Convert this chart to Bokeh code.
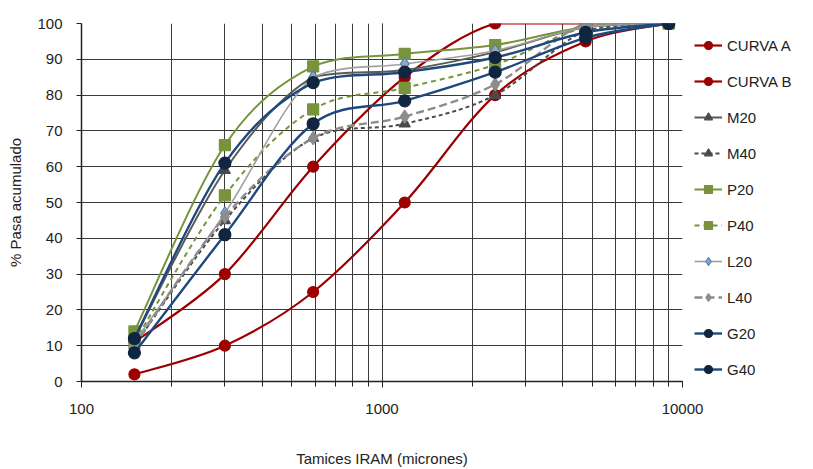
import numpy as np
from bokeh.plotting import figure
from bokeh.models import (Range1d, FixedTicker, Legend, LegendItem,
                          ColumnDataSource, PrintfTickFormatter)
from bokeh.embed import file_html
from bokeh.resources import INLINE

# ---- data ----
sizes = [150, 300, 590, 1190, 2380, 4760, 9000]
curva_a = [11, 30, 60, 85, 100, 100, 100]
curva_b = [2, 10, 25, 50, 80, 95, 100]
m20 = [12, 59, 85, 87, 92, 99, 100]
m40 = [10, 45, 68, 72, 80, 98, 100]
p20 = [14, 66, 88, 91.5, 94, 99, 100]
p40 = [11, 52, 76, 82, 88.5, 99, 100]
l20 = [11, 47, 85, 88.7, 92.4, 99, 100]
l40 = [10, 46, 68, 74, 83, 100, 100]
g20 = [12, 61, 83.5, 86.4, 90.5, 97.5, 100]
g40 = [8, 41, 72, 78.4, 86.4, 96, 100]
y_ticks = [0, 10, 20, 30, 40, 50, 60, 70, 80, 90, 100]

FONT = "Liberation Sans"

p = figure(frame_width=601, frame_height=358, x_axis_type="log",
           x_range=Range1d(100, 10000), y_range=Range1d(0, 100),
           output_backend="svg", toolbar_location=None,
           min_border_left=81, min_border_right=10,
           min_border_top=23, min_border_bottom=86)
p.outline_line_color = None
p.background_fill_color = "white"

# grid
p.xgrid.grid_line_color = "#3a3a3a"
p.xgrid.minor_grid_line_color = "#3a3a3a"
p.ygrid.grid_line_color = "#3a3a3a"
p.xgrid.grid_line_width = 1
p.ygrid.grid_line_width = 1

# axes
p.yaxis.ticker = FixedTicker(ticks=y_ticks)
p.xaxis.formatter = PrintfTickFormatter(format="%d")
for ax in (p.xaxis[0], p.yaxis[0]):
    ax.axis_line_color = "#222222"
    ax.axis_line_width = 1.5
    ax.major_tick_line_color = "#222222"
    ax.minor_tick_line_color = "#222222"
    ax.major_label_text_font = FONT
    ax.major_label_text_font_size = "15px"
    ax.major_label_text_color = "#222222"
    ax.axis_label_text_font = FONT
    ax.axis_label_text_font_size = "15px"
    ax.axis_label_text_font_style = "normal"
    ax.axis_label_text_color = "#222222"
p.xaxis.major_tick_out = 6
p.xaxis.major_tick_in = 0
p.xaxis.minor_tick_out = 5
p.xaxis.minor_tick_in = 0
p.xaxis.major_label_standoff = 16
p.xaxis.axis_label = "Tamices IRAM (micrones)"
p.xaxis.axis_label_standoff = 33
p.yaxis.major_tick_out = 5
p.yaxis.major_tick_in = 0
p.yaxis.minor_tick_out = 0
p.yaxis.major_label_standoff = 14
p.yaxis.axis_label = "% Pasa acumulado"
p.yaxis.axis_label_standoff = 10


def bezier_source(xs, ys, t=1 / 6):
    lx = np.log10(np.array(xs, float))
    y = np.array(ys, float)
    n = len(lx)
    d = dict(x0=[], y0=[], x1=[], y1=[], cx0=[], cy0=[], cx1=[], cy1=[])
    for i in range(n - 1):
        i0 = max(i - 1, 0)
        i3 = min(i + 2, n - 1)
        lo, hi = min(y[i], y[i + 1]), max(y[i], y[i + 1])
        c0x = lx[i] + (lx[i + 1] - lx[i0]) * t
        c0y = min(max(y[i] + (y[i + 1] - y[i0]) * t, lo), hi)
        c1x = lx[i + 1] - (lx[i3] - lx[i]) * t
        c1y = min(max(y[i + 1] - (y[i3] - y[i]) * t, lo), hi)
        d["x0"].append(10 ** lx[i]); d["y0"].append(y[i])
        d["x1"].append(10 ** lx[i + 1]); d["y1"].append(y[i + 1])
        d["cx0"].append(10 ** c0x); d["cy0"].append(c0y)
        d["cx1"].append(10 ** c1x); d["cy1"].append(c1y)
    return ColumnDataSource(d)


RED = "#9C0000"
MGRAY = "#4A4A4A"
GREEN = "#77933C"
LGRAY = "#A0A0A0"
LGRAY2 = "#8C8C8C"
NAVY = "#1F497D"
NAVY_M = "#10253F"

series = [
    ("CURVA A", curva_a, RED, 2.2, "solid", "circle", 11, RED, RED),
    ("CURVA B", curva_b, RED, 2.2, "solid", "circle", 11, RED, RED),
    ("M20", m20, "#5A5A5A", 2, "solid", "triangle", 11, MGRAY, MGRAY),
    ("M40", m40, MGRAY, 2, "4 3", "triangle", 11, MGRAY, MGRAY),
    ("P20", p20, GREEN, 2, "solid", "square", 11, GREEN, GREEN),
    ("P40", p40, GREEN, 2, "5 4", "square", 11, GREEN, GREEN),
    ("L20", l20, LGRAY, 1.6, "solid", "diamond", 13, "#9AA5B5", "#4F81BD"),
    ("L40", l40, LGRAY2, 2.4, "8 4", "diamond", 13, LGRAY2, LGRAY2),
    ("G20", g20, NAVY, 2.4, "solid", "circle", 12, NAVY_M, NAVY_M),
    ("G40", g40, NAVY, 2.4, "solid", "circle", 12, NAVY_M, NAVY_M),
]

items = []
for name, vals, lc, lw, dash, marker, msize, mfill, mline in series:
    src = bezier_source(sizes, vals)
    bz = p.bezier(x0="x0", y0="y0", x1="x1", y1="y1", cx0="cx0", cy0="cy0",
                  cx1="cx1", cy1="cy1", source=src, line_color=lc,
                  line_width=lw, line_dash=dash)
    sc = p.scatter(sizes, vals, marker=marker, size=msize, fill_color=mfill,
                   line_color=mline, line_width=1.2)
    items.append(LegendItem(label=name, renderers=[bz, sc]))

legend = Legend(items=items, location="top_left", orientation="vertical",
                border_line_color=None, background_fill_alpha=0,
                padding=3, margin=12, spacing=16, label_height=20,
                glyph_height=20, glyph_width=28, label_standoff=5,
                label_text_font=FONT, label_text_font_size="15px",
                label_text_color="#222222")
p.add_layout(legend, "right")

open("out.html", "w").write(file_html(p, INLINE))
